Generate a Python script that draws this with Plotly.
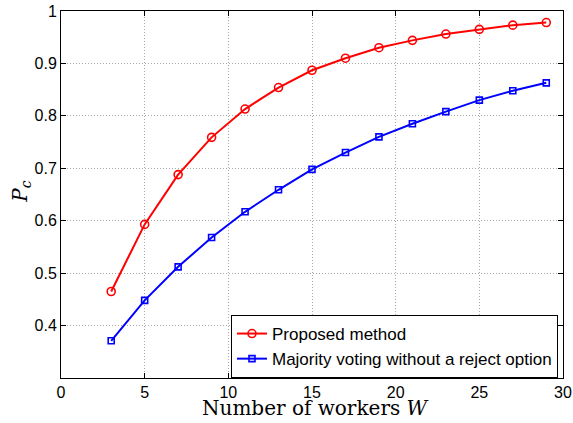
import plotly.graph_objects as go

W = [3, 5, 7, 9, 11, 13, 15, 17, 19, 21, 23, 25, 27, 29]
proposed = [0.465, 0.593, 0.688, 0.759, 0.813, 0.854, 0.887, 0.910, 0.930, 0.944, 0.956, 0.965, 0.973, 0.978]
majority = [0.371, 0.448, 0.512, 0.568, 0.617, 0.659, 0.698, 0.730, 0.760, 0.785, 0.808, 0.830, 0.848, 0.863]
x_ticks = [0, 5, 10, 15, 20, 25, 30]
y_ticks = [0.4, 0.5, 0.6, 0.7, 0.8, 0.9, 1.0]
y_labels = ["0.4", "0.5", "0.6", "0.7", "0.8", "0.9", "1"]

fig = go.Figure()
fig.add_trace(go.Scatter(
    x=W, y=proposed, mode="lines+markers", name="Proposed method",
    line=dict(color="#ff0000", width=2),
    marker=dict(symbol="circle-open", size=8, color="#ff0000", line=dict(width=1.6)),
))
fig.add_trace(go.Scatter(
    x=W, y=majority, mode="lines+markers", name="Majority voting without a reject option",
    line=dict(color="#0000ff", width=2),
    marker=dict(symbol="square-open", size=6, color="#0000ff", line=dict(width=1.6)),
))

axis_common = dict(
    showline=True, linecolor="black", linewidth=1, mirror="ticks",
    ticks="inside", ticklen=5, tickcolor="black", automargin=False,
    showgrid=True, gridcolor="#a8a8a8", griddash="1px,2px", gridwidth=1,
    zeroline=False, tickfont=dict(family="Liberation Sans, Arial", size=16, color="black"),
)

fig.update_xaxes(range=[0, 30], tickvals=x_ticks, **axis_common)
fig.update_yaxes(range=[0.3, 1.0], tickvals=y_ticks, ticktext=y_labels, **axis_common)

fig.update_layout(
    width=573, height=423,
    margin=dict(l=61, r=10, t=11, b=45),
    plot_bgcolor="white", paper_bgcolor="white",
    showlegend=True,
    legend=dict(
        x=0.99, y=0.0, xanchor="right", yanchor="bottom",
        bordercolor="black", borderwidth=1, bgcolor="white",
        font=dict(family="Liberation Sans, Arial", size=17, color="black"),
        itemwidth=30, tracegroupgap=0,
    ),
    annotations=[
        dict(text="Number of workers <i>W</i>", xref="paper", yref="paper",
             x=0.506, y=-0.082, xanchor="center", yanchor="middle", showarrow=False,
             font=dict(family="DejaVu Serif", size=20, color="black")),
        dict(text="<i>P</i><sub><i>c</i></sub>", xref="paper", yref="paper",
             x=-0.08, y=0.507, xanchor="center", yanchor="middle", showarrow=False,
             textangle=-90, font=dict(family="DejaVu Serif", size=20, color="black")),
    ],
)

fig.write_html("out.html", config={"displayModeBar": False},
               post_script="document.body.style.margin='0px';")
